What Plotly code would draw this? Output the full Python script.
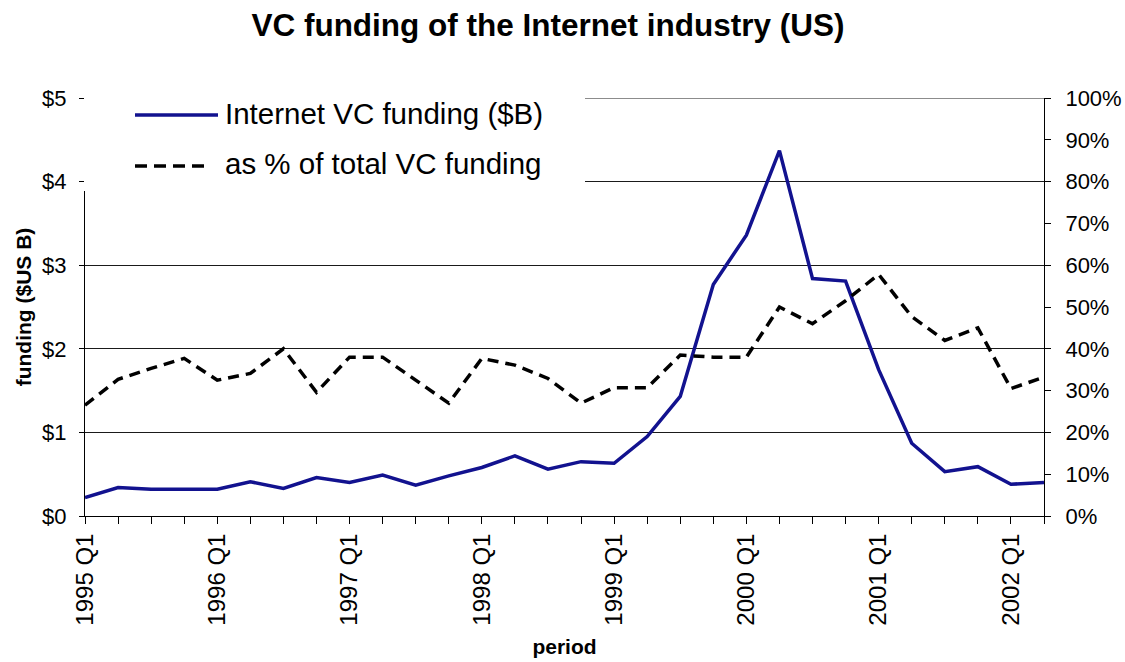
import plotly.graph_objects as go

# ---- data ----
years = ["1995", "1996", "1997", "1998", "1999", "2000", "2001", "2002"]
quarters = ["Q1", "Q2", "Q3", "Q4"]
periods = [f"{y} {q}" for y in years for q in quarters][:30]  # 1995 Q1 .. 2002 Q2

funding_bn = [
    0.22, 0.34, 0.32, 0.32,   # 1995
    0.32, 0.41, 0.33, 0.46,   # 1996
    0.40, 0.49, 0.37, 0.48,   # 1997
    0.58, 0.72, 0.56, 0.65,   # 1998
    0.63, 0.95, 1.43, 2.77,   # 1999
    3.36, 4.37, 2.84, 2.81,   # 2000
    1.75, 0.87, 0.53, 0.59,   # 2001
    0.38, 0.40,               # 2002
]
share_pct = [
    26.5, 32.7, 35.3, 37.7,   # 1995
    32.5, 34.1, 40.0, 29.6,   # 1996
    38.0, 38.0, 32.5, 27.0,   # 1997
    37.7, 36.1, 32.9, 27.0,   # 1998
    30.7, 30.7, 38.5, 38.0,   # 1999
    38.0, 50.0, 46.0, 51.5,   # 2000
    57.8, 47.7, 42.0, 45.0,   # 2001
    30.5, 33.2,               # 2002
]
tick_text = [p if p.endswith("Q1") else "" for p in periods]

series_names = ["Internet VC funding ($B)", "as % of total VC funding"]
title_text = "VC funding of the Internet industry (US)"
y_max, y2_max = 5, 100

BLUE = "#12128f"
GRID = "#1a1a1a"
FONT = "Liberation Sans, Arial, sans-serif"

# plot-area geometry in pixels (for legend placement)
W, H = 1125, 662
L, R, T, B = 85, 81, 98, 146
PW, PH = W - L - R, H - T - B


def px_x(x):
    return (x - L) / PW


def px_y(y):
    return (H - B - y) / PH


fig = go.Figure()
fig.add_trace(go.Scatter(
    x=periods, y=funding_bn, mode="lines", name=series_names[0],
    line=dict(color=BLUE, width=3.5), yaxis="y", showlegend=False,
))
fig.add_trace(go.Scatter(
    x=periods, y=share_pct, mode="lines", name=series_names[1],
    line=dict(color="black", width=3.5, dash="11px,7px"), yaxis="y2",
    showlegend=False,
))

shapes = [
    # top gridline at the axis maximum (plotly drops the edge gridline)
    dict(type="line", xref="paper", yref="y", layer="between",
         x0=0, x1=1, y0=y_max, y1=y_max, line=dict(color=GRID, width=1)),
    # custom legend: white box covering grid, long line samples
    dict(type="rect", xref="paper", yref="paper", layer="above",
         x0=px_x(84), x1=px_x(585), y0=px_y(191), y1=px_y(88),
         fillcolor="white", line=dict(width=0)),
    dict(type="line", xref="paper", yref="paper", layer="above",
         x0=px_x(135), x1=px_x(218), y0=px_y(115), y1=px_y(115),
         line=dict(color=BLUE, width=3.5)),
    dict(type="line", xref="paper", yref="paper", layer="above",
         x0=px_x(135), x1=px_x(210), y0=px_y(166), y1=px_y(166),
         line=dict(color="black", width=3.5, dash="12px,7px")),
]
annotations = [
    dict(text=series_names[0], xref="paper", yref="paper",
         x=px_x(223), y=px_y(114), xanchor="left", yanchor="middle",
         showarrow=False, font=dict(family=FONT, size=29.5, color="black")),
    dict(text=series_names[1], xref="paper", yref="paper",
         x=px_x(223), y=px_y(163), xanchor="left", yanchor="middle",
         showarrow=False, font=dict(family=FONT, size=29.5, color="black")),
]

fig.update_layout(
    width=W, height=H,
    margin=dict(l=L, r=R, t=T, b=B, pad=0, autoexpand=False),
    paper_bgcolor="white", plot_bgcolor="white",
    font=dict(family=FONT, color="black"),
    title=dict(text=title_text, x=548 / W, xanchor="center",
               y=1 - 25 / H, yanchor="middle", xref="container", yref="container",
               font=dict(family=FONT, size=31.5, weight="bold", color="black"),
               automargin=False),
    xaxis=dict(
        type="category", range=[0, len(periods) - 1], automargin=False,
        tickmode="array", tickvals=periods, ticktext=tick_text,
        tickangle=-90, tickfont=dict(size=24),
        ticks="outside", ticklen=7, tickcolor="black",
        showline=True, linecolor="black", linewidth=1,
        showgrid=False, zeroline=False,
        title=dict(text="period", standoff=14,
                   font=dict(size=21, weight="bold")),
    ),
    yaxis=dict(
        range=[0, y_max], dtick=1, tick0=0, tickprefix="$", automargin=False,
        tickfont=dict(size=22), ticks="outside", ticklen=5, tickcolor="black",
        ticklabelstandoff=8,
        showline=True, linecolor="black", linewidth=1,
        showgrid=True, gridcolor=GRID, gridwidth=1, zeroline=False,
        title=dict(text="funding ($US B)", standoff=4,
                   font=dict(size=21, weight="bold")),
    ),
    yaxis2=dict(
        overlaying="y", side="right", anchor="x", automargin=False,
        range=[0, y2_max], dtick=10, tick0=0, ticksuffix="%",
        tickfont=dict(size=22), ticks="outside", ticklen=6, tickcolor="black",
        ticklabelstandoff=10,
        showline=True, linecolor="black", linewidth=1,
        showgrid=False, zeroline=False,
    ),
    yaxis3=dict(
        overlaying="y", side="right", anchor="x", automargin=False,
        range=[0, y2_max], dtick=10, tick0=0,
        ticks="inside", ticklen=5, tickcolor="black",
        showticklabels=False, showline=False, showgrid=False, zeroline=False,
    ),
    shapes=shapes,
    annotations=annotations,
)

fig.write_html(
    "out.html",
    config={"displayModeBar": False},
    post_script="document.body.style.margin='0';document.body.style.padding='0';",
)
